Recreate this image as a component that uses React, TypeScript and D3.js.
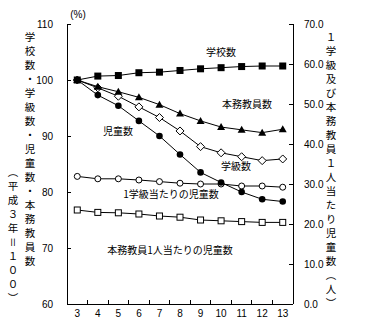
import React from 'react';
import * as d3 from 'd3';

const years = ['3', '4', '5', '6', '7', '8', '9', '10', '11', '12', '13'];
const schools = [100, 100.7, 100.8, 101.3, 101.4, 101.7, 102.0, 102.2, 102.4, 102.5, 102.5];
const teachers = [100, 98.8, 97.9, 96.9, 95.6, 94.0, 92.7, 91.6, 91.1, 90.6, 91.2];
const classes = [100, 98.6, 97.1, 95.2, 93.3, 90.9, 88.1, 87.0, 86.3, 85.6, 85.9];
const pupils = [100, 97.3, 95.4, 92.7, 90.0, 86.7, 83.5, 81.7, 80.0, 78.7, 78.3];
const pupilsPerClass = [31.9, 31.3, 31.3, 31.0, 30.6, 30.2, 30.0, 30.0, 29.5, 29.5, 29.2];
const pupilsPerTeacher = [23.5, 22.9, 22.8, 22.5, 22.0, 21.7, 21.0, 20.8, 20.6, 20.4, 20.4];
const leftTicks = [60, 70, 80, 90, 100, 110];
const rightTicks = [0, 10, 20, 30, 40, 50, 60, 70];
const leftTitle1 = '学校数・学級数・児童数・本務教員数';
const leftTitle2 = '（平成３年＝１００）';
const rightTitle = '１学級及び本務教員１人当たり児童数（人）';
const unitLabel = '(%)';

const seriesLabels = [
  { text: '学校数', x: 221, y: 51 },
  { text: '本務教員数', x: 247, y: 103 },
  { text: '学級数', x: 236, y: 165 },
  { text: '児童数', x: 118, y: 130 },
  { text: '1学級当たりの児童数', x: 171, y: 193 },
  { text: '本務教員1人当たりの児童数', x: 170, y: 249 },
];

const L = 67, R = 293, T = 24, B = 304;
const numFont = '"Liberation Sans", Arial, sans-serif';
const jpFont = '"Noto Sans CJK JP", sans-serif';

type MarkerKind = 'fsquare' | 'ftri' | 'odiamond' | 'fcircle' | 'ocircle' | 'osquare';

function Marker({ kind, x, y }: { kind: MarkerKind; x: number; y: number }) {
  switch (kind) {
    case 'fsquare':
      return <rect x={x - 3.5} y={y - 3.5} width={7} height={7} fill="#000" />;
    case 'osquare':
      return <rect x={x - 3} y={y - 3} width={6} height={6} fill="#fff" stroke="#000" strokeWidth={1} />;
    case 'ftri':
      return <path d={`M${x},${y - 4}L${x + 4},${y + 3}L${x - 4},${y + 3}Z`} fill="#000" />;
    case 'odiamond':
      return <path d={`M${x},${y - 4}L${x + 4},${y}L${x},${y + 4}L${x - 4},${y}Z`} fill="#fff" stroke="#000" strokeWidth={1} />;
    case 'fcircle':
      return <circle cx={x} cy={y} r={3.3} fill="#000" />;
    case 'ocircle':
      return <circle cx={x} cy={y} r={3} fill="#fff" stroke="#000" strokeWidth={1} />;
  }
  return null;
}

export default function App() {
  const x = d3.scalePoint<string>().domain(years).range([L, R]).padding(0.5);
  const yL = d3.scaleLinear().domain([60, 110]).range([B, T]);
  const yR = d3.scaleLinear().domain([0, 70]).range([B, T]);
  const step = x.step();

  const series: { data: number[]; scale: d3.ScaleLinear<number, number>; kind: MarkerKind }[] = [
    { data: pupilsPerTeacher, scale: yR, kind: 'osquare' },
    { data: pupilsPerClass, scale: yR, kind: 'ocircle' },
    { data: pupils, scale: yL, kind: 'fcircle' },
    { data: classes, scale: yL, kind: 'odiamond' },
    { data: teachers, scale: yL, kind: 'ftri' },
    { data: schools, scale: yL, kind: 'fsquare' },
  ];

  const boundaries = d3.range(1, years.length).map((i) => L + i * step);
  const vStyle = { writingMode: 'vertical-rl', letterSpacing: '3.5px' } as React.CSSProperties;

  return (
    <svg width={370} height={335} style={{ position: 'absolute', left: 0, top: 0, background: '#fff' }}>
      <rect x={0} y={0} width={370} height={335} fill="#fff" />
      <g stroke="#000" strokeWidth={1} shapeRendering="crispEdges">
        <line x1={L} x2={L} y1={T} y2={B} />
        <line x1={R} x2={R} y1={T} y2={B} />
        <line x1={L} x2={R} y1={B} y2={B} />
        {leftTicks.map((t) => (
          <line key={'lt' + t} x1={L} x2={L + 4} y1={yL(t)} y2={yL(t)} />
        ))}
        {rightTicks.map((t) => (
          <line key={'rt' + t} x1={R - 4} x2={R} y1={yR(t)} y2={yR(t)} />
        ))}
        {boundaries.map((b, i) => (
          <line key={'bt' + i} x1={b} x2={b} y1={B - 4} y2={B} />
        ))}
      </g>
      <g fontFamily={numFont} fontSize={10} fill="#000">
        {leftTicks.map((t) => (
          <text key={'ll' + t} x={53} y={yL(t)} textAnchor="end" dominantBaseline="central">{t}</text>
        ))}
        {rightTicks.map((t) => (
          <text key={'rl' + t} x={304} y={yR(t)} textAnchor="start" dominantBaseline="central">{t.toFixed(1)}</text>
        ))}
        {years.map((yv) => (
          <text key={'xl' + yv} x={x(yv)} y={313} textAnchor="middle" dominantBaseline="central">{yv}</text>
        ))}
        <text x={78} y={14} textAnchor="middle" dominantBaseline="central">{unitLabel}</text>
      </g>
      <g fontFamily={jpFont} fontSize={10.5} fill="#000">
        <text x={30} y={32} style={vStyle}>{leftTitle1}</text>
        <text x={13} y={167} style={vStyle}>{leftTitle2}</text>
        <text x={331} y={32} style={vStyle}>{rightTitle}</text>
      </g>
      {series.map((s, si) => {
        const line = d3
          .line<number>()
          .x((_, i) => x(years[i]) as number)
          .y((d) => s.scale(d));
        return (
          <g key={'s' + si}>
            <path d={line(s.data) || ''} fill="none" stroke="#000" strokeWidth={1} />
            {s.data.map((d, i) => (
              <Marker key={i} kind={s.kind} x={x(years[i]) as number} y={s.scale(d)} />
            ))}
          </g>
        );
      })}
      <g fontFamily={jpFont} fontSize={10} fill="#000">
        {seriesLabels.map((l) => (
          <text key={l.text} x={l.x} y={l.y} textAnchor="middle" dominantBaseline="central">{l.text}</text>
        ))}
      </g>
    </svg>
  );
}
